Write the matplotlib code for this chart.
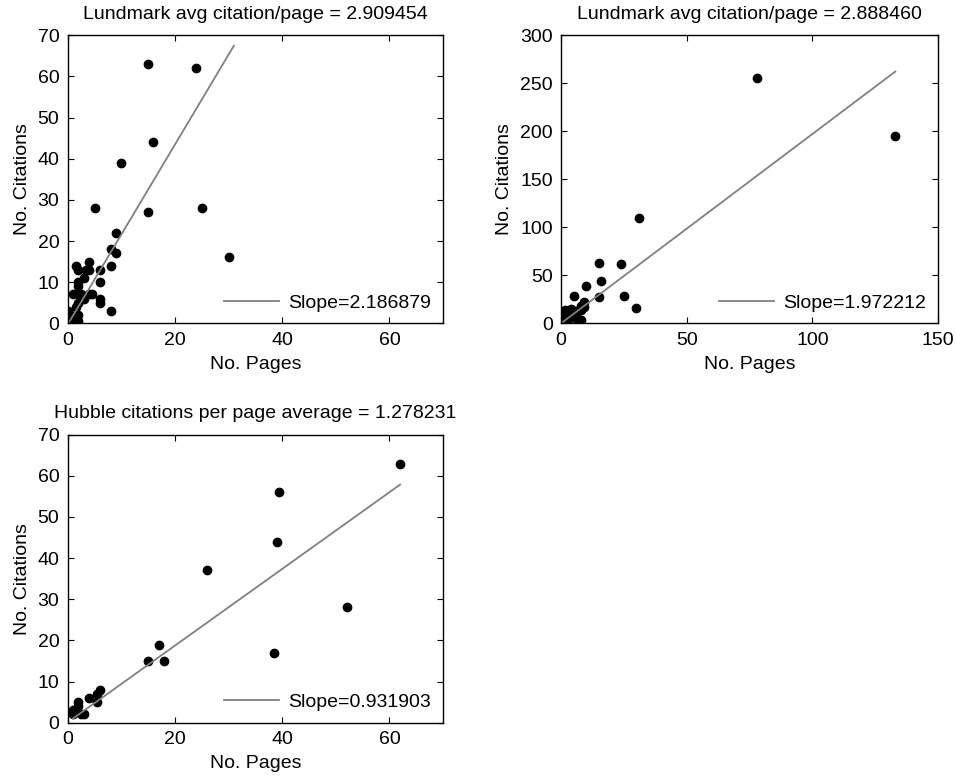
import numpy as np
import matplotlib.pyplot as plt
from matplotlib.ticker import MultipleLocator

# Lundmark data (pages, citations) - subset shown in the first panel
lund_pages = [15, 24, 16, 10, 5, 15, 25, 9, 8, 9, 30, 4, 1.5, 2, 3.5, 4, 6, 8,
              3, 2, 2, 6, 1, 2, 2.5, 4, 4.5, 3, 6, 6, 2, 1.5, 8, 0, 0.5, 1,
              1.5, 2, 1, 2, 31]
lund_cites = [63, 62, 44, 39, 28, 27, 28, 22, 18, 17, 16, 15, 14, 13, 13, 13, 13, 14,
              11, 10, 9, 10, 7, 7, 7, 7, 7, 6, 6, 5, 5, 4, 3, 3, 2, 1,
              1, 0.5, 0, 2, 110]

# extra Lundmark papers only in the full set
lund_extra_pages = [78, 133]
lund_extra_cites = [256, 195]

# Hubble data
hub_pages = [62, 39.5, 39, 26, 52, 38.5, 17, 15, 18, 6, 5.5, 5.5, 4, 2, 2, 1, 1, 2.5, 3]
hub_cites = [63, 56, 44, 37, 28, 17, 19, 15, 15, 8, 7, 5, 6, 5, 4, 3, 2, 2, 2]

titles = ["Lundmark avg citation/page = 2.909454",
          "Lundmark avg citation/page = 2.888460",
          "Hubble citations per page average = 1.278231"]
slopes = [2.186879, 1.972212, 0.931903]
intercepts = [-0.3, -0.1, 0.1]
fit_ranges = [(0, 31), (0, 133), (1, 62)]

plt.rcParams['font.family'] = ['Liberation Sans', 'DejaVu Sans']
plt.rcParams['font.size'] = 14

fig = plt.figure(figsize=(9.55, 7.76), dpi=100)
ax1 = fig.add_axes([0.0709, 0.5834, 0.393, 0.3711])
ax2 = fig.add_axes([0.5874, 0.5834, 0.3948, 0.3711])
ax3 = fig.add_axes([0.0709, 0.0687, 0.393, 0.3711])

all_pages = lund_pages + lund_extra_pages
all_cites = lund_cites + lund_extra_cites
datasets = [(lund_pages, lund_cites), (all_pages, all_cites), (hub_pages, hub_cites)]
limits = [((0, 70), (0, 70)), ((0, 150), (0, 300)), ((0, 70), (0, 70))]
xsteps = [20, 50, 20]
ysteps = [10, 50, 10]

for i, ax in enumerate([ax1, ax2, ax3]):
    x, y = datasets[i]
    ax.plot(x, y, 'o', color='black', markersize=6)
    xf = np.linspace(fit_ranges[i][0], fit_ranges[i][1], 50)
    ax.plot(xf, slopes[i] * xf + intercepts[i], color='0.5', lw=1.3,
            label='Slope=%f' % slopes[i])
    ax.set_xlim(limits[i][0])
    ax.set_ylim(limits[i][1])
    ax.xaxis.set_major_locator(MultipleLocator(xsteps[i]))
    ax.yaxis.set_major_locator(MultipleLocator(ysteps[i]))
    ax.set_title(titles[i], fontsize=14, pad=12)
    ax.set_xlabel('No. Pages', labelpad=5)
    ax.set_ylabel('No. Citations', labelpad=5)
    ax.tick_params(direction='in', top=True, right=True, length=4, width=0.8, pad=6)
    for s in ax.spines.values():
        s.set_linewidth(1.0)
    ax.legend(loc='lower right', frameon=False, handlelength=2.8,
              borderaxespad=0.2, handletextpad=0.5)

fig.savefig('out.png', dpi=100)
